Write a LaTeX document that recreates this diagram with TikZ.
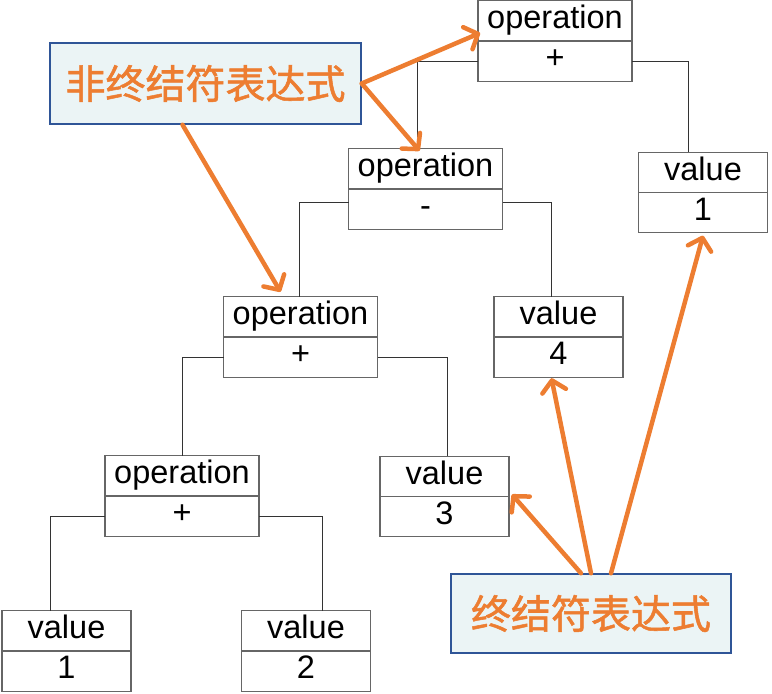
\documentclass[tikz,border=0pt]{standalone}
\usepackage{fontspec}
\setmainfont{Liberation Sans}
\newfontfamily\cjk[FakeBold=1.3]{Noto Sans CJK SC}
\usetikzlibrary{arrows.meta}
\usetikzlibrary{shapes.multipart}
\definecolor{accent}{HTML}{ED7D31}
\definecolor{notefill}{HTML}{EBF4F5}
\definecolor{notedraw}{HTML}{2F5597}

\begin{document}
\begin{tikzpicture}[x=1pt,y=-1pt]
            \tikzstyle{obj}=[rectangle split,rectangle split parts=2,draw=black!60,line width=1.2pt,fill=white,inner xsep=0pt,inner ysep=0pt,outer sep=0pt,font=\fontsize{32.5}{39}\selectfont,minimum width=129pt]
            \tikzstyle{opobj}=[obj,minimum width=154pt]
            \tikzstyle{edge}=[draw=black!80,line width=0.8pt,-]
            \tikzstyle{note}=[draw=notedraw,line width=1.5pt,fill=notefill,text=accent,font=\cjk\fontsize{40}{48}\selectfont,inner sep=0pt]
            \tikzstyle{pointer}=[draw=accent,line width=4.5pt,line cap=round,-{Straight Barb[length=11pt,width=24pt,round]}]

            \def\half{19.5pt}

            \useasboundingbox (0,0) rectangle (772,694);

            \node[opobj] (op1) at (555,41)    {\strut operation\nodepart{two}\strut +};
            \node[opobj] (op2) at (425.5,189) {\strut operation\nodepart{two}\strut -};
            \node[opobj] (op3) at (300.5,337) {\strut operation\nodepart{two}\strut +};
            \node[opobj] (op4) at (182,496)   {\strut operation\nodepart{two}\strut +};
            \node[obj] (v1)  at (703,192.5)   {\strut value\nodepart{two}\strut 1};
            \node[obj] (v4)  at (558.5,337)   {\strut value\nodepart{two}\strut 4};
            \node[obj] (v3)  at (444.5,496.5) {\strut value\nodepart{two}\strut 3};
            \node[obj] (vb1) at (66.5,651)    {\strut value\nodepart{two}\strut 1};
            \node[obj] (vb2) at (306,651)     {\strut value\nodepart{two}\strut 2};

            \node[note,minimum width=311pt,minimum height=81pt] (nt) at (205.5,83.5) {非终结符表达式};
            \node[note,minimum width=280pt,minimum height=79pt] (t)  at (591,613.5)  {终结符表达式};

            \path[edge] ([yshift=\half]op1.south west) -| ([xshift=-8.5pt]op2.north);
            \path[edge] ([yshift=\half]op1.south east) -| ([xshift=-15pt]v1.north);

            \path[edge] ([yshift=27pt]op2.south west) -| ([xshift=-1.5pt]op3.north);
            \path[edge] ([yshift=27pt]op2.south east) -| ([xshift=-7.5pt]v4.north);

            \path[edge] ([yshift=\half]op3.south west) -| (op4.north);
            \path[edge] ([yshift=\half]op3.south east) -| ([xshift=2.5pt]v3.north);

            \path[edge] ([yshift=\half]op4.south west) -| ([xshift=-16.5pt]vb1.north);
            \path[edge] ([yshift=\half]op4.south east) -| ([xshift=16pt]vb2.north);

            \path[pointer] (nt.east) -- ([yshift=8pt,xshift=2pt]op1.west);
            \path[pointer] (nt.east) -- ([xshift=-6pt,yshift=-2pt]op2.north);
            \path[pointer] ([xshift=-23pt]nt.south) -- ([xshift=-20pt,yshift=5pt]op3.north);

            \path[pointer] ([xshift=-10pt]t.north) -- ([xshift=3pt,yshift=2pt]v3.east);
            \path[pointer] (t.north) -- ([xshift=-7pt,yshift=-1pt]v4.south);
            \path[pointer] ([xshift=20pt]t.north) -- ([yshift=-3pt]v1.south);
        \end{tikzpicture}
\end{document}
